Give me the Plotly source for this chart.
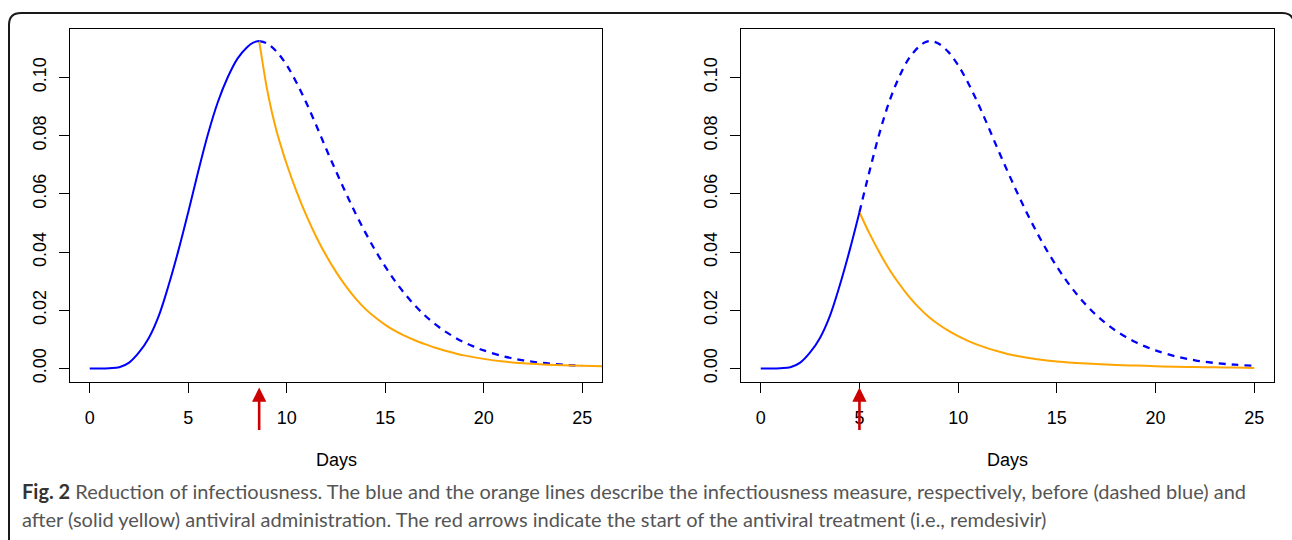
import plotly.graph_objects as go

# ---- data ----
base_days = [0, 0.5, 1, 1.5, 2, 2.5, 3, 3.5, 4, 4.5, 5, 5.5, 6, 6.5, 7, 7.5, 8, 8.3, 8.6,
             9, 9.5, 10, 10.5, 11, 11.5, 12, 12.5, 13, 13.5, 14, 14.5, 15, 15.5, 16,
             16.5, 17, 17.5, 18, 18.5, 19, 19.5, 20, 21, 22, 23, 24, 25]
base_vals = [0.0, 0.0, 0.0001, 0.0004, 0.0020, 0.0055, 0.0105, 0.0180, 0.0285, 0.0405,
             0.0537, 0.0675, 0.0805, 0.0915, 0.1000, 0.1065, 0.1105, 0.1120, 0.1125,
             0.1117, 0.1088, 0.1042, 0.0982, 0.0912, 0.0835, 0.0755, 0.0678, 0.0603,
             0.0532, 0.0466, 0.0405, 0.0350, 0.0300, 0.0256, 0.0217, 0.0183, 0.0154,
             0.0129, 0.0108, 0.0090, 0.0075, 0.0062, 0.0042, 0.0028, 0.0019, 0.0013, 0.0009]

treat_left = 8.6
treat_right = 5.0

orange_left_days = [8.6, 8.8, 9.0, 9.25, 9.5, 9.75, 10.0, 10.5, 11.0, 11.5, 12.0, 12.5,
                    13.0, 13.5, 14.0, 14.5, 15.0, 15.5, 16.0, 16.5, 17.0, 17.5, 18.0,
                    18.5, 19.0, 20.0, 21.0, 22.0, 23.0, 24.0, 25.0, 26.0, 27.0]
orange_left_vals = [0.1125, 0.1040, 0.0960, 0.0880, 0.0812, 0.0755, 0.0702, 0.0608,
                    0.0525, 0.0452, 0.0388, 0.0332, 0.0283, 0.0240, 0.0204, 0.0175,
                    0.0150, 0.0129, 0.0112, 0.0097, 0.0084, 0.0072, 0.0062, 0.0053,
                    0.0045, 0.0033, 0.0024, 0.0018, 0.0014, 0.0011, 0.0009, 0.0008, 0.0007]

orange_right_days = [5.0, 5.5, 6.0, 6.5, 7.0, 7.5, 8.0, 8.5, 9.0, 9.5, 10.0, 10.5, 11.0,
                     11.5, 12.0, 12.5, 13.0, 14.0, 15.0, 16.0, 17.0, 18.0, 19.0, 20.0,
                     21.0, 22.0, 23.0, 24.0, 25.0]
orange_right_vals = [0.0537, 0.0465, 0.0400, 0.0342, 0.0292, 0.0248, 0.0210, 0.0178,
                     0.0152, 0.0130, 0.0111, 0.0095, 0.0081, 0.0069, 0.0059, 0.0050,
                     0.0043, 0.0032, 0.0024, 0.0019, 0.0015, 0.0012, 0.0010, 0.0008,
                     0.0006, 0.0005, 0.0004, 0.0003, 0.0002]

x_ticks = [0, 5, 10, 15, 20, 25]
y_ticks = [0.00, 0.02, 0.04, 0.06, 0.08, 0.10]
y_tick_labels = ["0.00", "0.02", "0.04", "0.06", "0.08", "0.10"]
x_label = "Days"
caption_bold = "Fig. 2"
caption_line1 = (" Reduction of infectiousness. The blue and the orange lines describe the "
                 "infectiousness measure, respectively, before (dashed blue) and")
caption_line2 = ("after (solid yellow) antiviral administration. The red arrows indicate the "
                 "start of the antiviral treatment (i.e., remdesivir)")

# ---- layout helpers ----
W, H = 1292, 540
def px(v):
    return v / W
def py(v):
    return 1 - v / H

BLUE = "#0000FF"
ORANGE = "#FFA500"
RED = "#CC0000"

fig = go.Figure()

def add_panel(xa, ya, treat, o_days, o_vals):
    pre_d = [d for d in base_days if d <= treat]
    pre_v = [v for d, v in zip(base_days, base_vals) if d <= treat]
    post_d = [d for d in base_days if d >= treat]
    post_v = [v for d, v in zip(base_days, base_vals) if d >= treat]
    fig.add_trace(go.Scatter(x=post_d, y=post_v, mode="lines", xaxis=xa, yaxis=ya,
                             line=dict(color=BLUE, width=2.3, dash="7px,6px", shape="spline"),
                             showlegend=False, hoverinfo="skip"))
    fig.add_trace(go.Scatter(x=o_days, y=o_vals, mode="lines", xaxis=xa, yaxis=ya,
                             line=dict(color=ORANGE, width=2, shape="spline"),
                             showlegend=False, hoverinfo="skip"))
    fig.add_trace(go.Scatter(x=pre_d, y=pre_v, mode="lines", xaxis=xa, yaxis=ya,
                             line=dict(color=BLUE, width=2, shape="spline"),
                             showlegend=False, hoverinfo="skip"))

add_panel("x", "y", treat_left, orange_left_days, orange_left_vals)
add_panel("x2", "y2", treat_right, orange_right_days, orange_right_vals)

axis_font = dict(family="Liberation Sans, Arial, sans-serif", size=18, color="#000")
xcommon = dict(range=[-1, 26], tickmode="array", tickvals=x_ticks,
               ticktext=[str(t) for t in x_ticks], ticks="outside", ticklen=10,
               tickwidth=1.2, tickcolor="#000", showline=True, mirror=True,
               linecolor="#000", linewidth=1.4, showgrid=False, zeroline=False,
               tickfont=axis_font, ticklabelstandoff=10)
ycommon = dict(range=[-0.0045, 0.1167], tickmode="array", tickvals=y_ticks,
               ticktext=y_tick_labels, ticks="outside", ticklen=10, tickwidth=1.2,
               tickcolor="#000", showline=True, mirror=True, linecolor="#000",
               linewidth=1.4, showgrid=False, zeroline=False, tickangle=-90,
               tickfont=axis_font, ticklabelstandoff=6)

ydom = [py(383), py(29)]
fig.update_layout(
    width=W, height=H, autosize=False,
    margin=dict(l=0, r=0, t=0, b=0),
    paper_bgcolor="white", plot_bgcolor="white",
    xaxis=dict(domain=[px(70), px(602)], anchor="y", **xcommon),
    yaxis=dict(domain=ydom, anchor="x", **ycommon),
    xaxis2=dict(domain=[px(741), px(1274)], anchor="y2", **xcommon),
    yaxis2=dict(domain=ydom, anchor="x2", **ycommon),
)

annotations = []
# x axis titles
for cx in (336, 1007.5):
    annotations.append(dict(x=px(cx), y=py(462), xref="paper", yref="paper",
                            text=x_label, showarrow=False, xanchor="center",
                            yanchor="middle", font=axis_font))
# red arrows
for xr, t in (("x", treat_left), ("x2", treat_right)):
    annotations.append(dict(x=t, y=py(389), xref=xr, yref="paper", text="",
                            showarrow=True, ax=0, ay=44, axref="pixel", ayref="pixel",
                            arrowhead=2, arrowsize=1.1, arrowwidth=2.6, arrowcolor=RED))
cap_font = dict(family="Lato, Noto Sans, sans-serif", size=20, color="#555555")
annotations.append(dict(x=px(20), y=py(493), xref="paper", yref="paper",
                        text="<b><span style='color:#333333'>" + caption_bold + "</span></b>" + caption_line1,
                        showarrow=False, xanchor="left", yanchor="middle", font=cap_font))
annotations.append(dict(x=px(20), y=py(521), xref="paper", yref="paper",
                        text=caption_line2, showarrow=False, xanchor="left",
                        yanchor="middle", font=cap_font))
fig.update_layout(annotations=annotations)

# outer rounded frame (open at right/bottom edges)
L, T, R, B, r = px(9), py(13), px(1294), py(600), 12
path = (f"M {L},{B} L {L},{py(13 + r)} Q {L},{T} {px(9 + r)},{T} "
        f"L {px(1294 - r)},{T} Q {R},{T} {R},{py(13 + r)} L {R},{B}")
fig.add_shape(type="path", path=path, xref="paper", yref="paper",
              line=dict(color="#1a1a1a", width=2), layer="above")

fig.write_html("out.html", config={"displayModeBar": False},
               post_script="document.body.style.margin='0';")
